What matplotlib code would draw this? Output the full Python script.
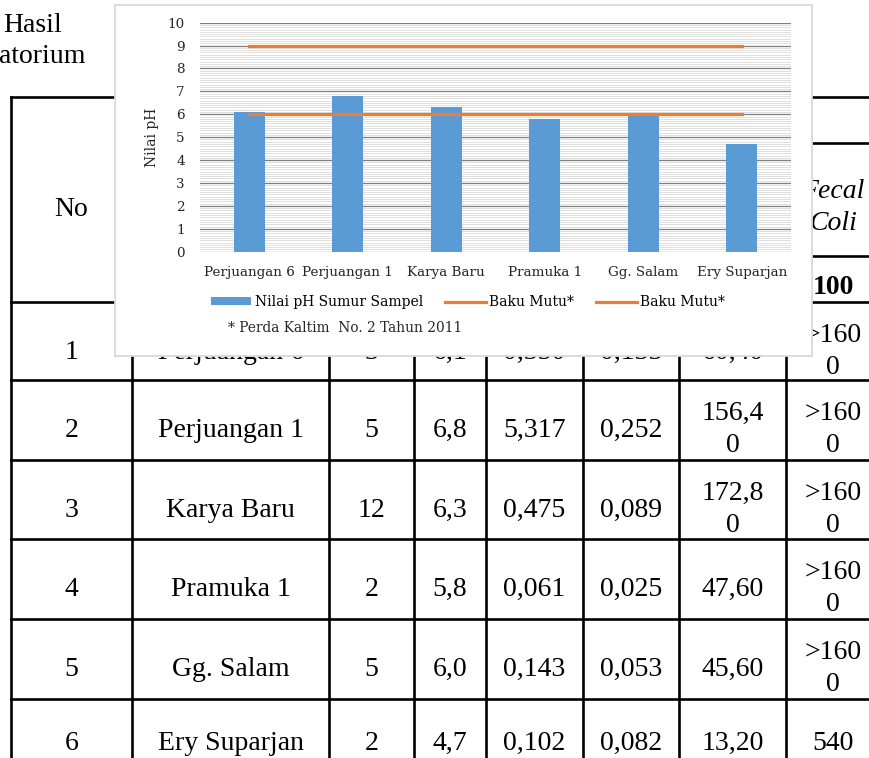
import numpy as np
import matplotlib.pyplot as plt

# data grafik pH sumur
lokasi = ['Perjuangan 6', 'Perjuangan 1', 'Karya Baru', 'Pramuka 1', 'Gg. Salam', 'Ery Suparjan']
nilai_ph = [6.1, 6.8, 6.3, 5.8, 6.0, 4.7]
baku_atas = [9, 9, 9, 9, 9, 9]
baku_bawah = [6, 6, 6, 6, 6, 6]

# isi tabel hasil laboratorium
nomor = ['1', '2', '3', '4', '5', '6']
kol_jumlah = ['3', '5', '12', '2', '5', '2']
kol_ph = [f'{v:.1f}'.replace('.', ',') for v in nilai_ph]
kol_a = ['0,350', '5,317', '0,475', '0,061', '0,143', '0,102']
kol_b = ['0,133', '0,252', '0,089', '0,025', '0,053', '0,082']
kol_c = ['60,40', '156,4\n0', '172,8\n0', '47,60', '45,60', '13,20']
kol_fecal = ['>160\n0', '>160\n0', '>160\n0', '>160\n0', '>160\n0', '540']

W, H = 869, 758
fig = plt.figure(figsize=(W / 100, H / 100), dpi=100)

# ---- tabel di belakang (koordinat piksel) ----
tab = fig.add_axes([0, 0, 1, 1])
tab.set_xlim(0, W)
tab.set_ylim(H, 0)
tab.axis('off')

col_x = [11, 132, 329, 414, 486, 583, 679, 786, 880]
row_y = [302, 380, 460, 539, 619, 699, 778]
lw_tab = 1.9

for x in col_x[:-1]:
    tab.plot([x, x], [97, row_y[-1]], color='black', lw=lw_tab)
tab.plot([col_x[0], col_x[-1]], [97, 97], color='black', lw=lw_tab)
for y in (143, 256):
    tab.plot([col_x[2], col_x[-1]], [y, y], color='black', lw=lw_tab)
for y in row_y:
    tab.plot([col_x[0], col_x[-1]], [y, y], color='black', lw=lw_tab)

serif = 'Liberation Serif'
fs_tab = 20


def tulis(xc, top, teks, **kw):
    baris = teks.split('\n')
    if len(baris) == 1:
        # baris terakhir terpotong di tepi bawah gambar
        tab.text(xc, min(top + 57, H - 8), teks, ha='center', va='baseline',
                 family=serif, fontsize=fs_tab, **kw)
    else:
        for i, b in enumerate(baris):
            tab.text(xc, top + 40 + 32 * i, b, ha='center', va='baseline',
                     family=serif, fontsize=fs_tab, **kw)


pusat = [(col_x[i] + col_x[i + 1]) / 2 for i in range(len(col_x) - 1)]
kolom = [nomor, lokasi, kol_jumlah, kol_ph, kol_a, kol_b, kol_c, kol_fecal]
for r in range(len(nomor)):
    for c, isi in enumerate(kolom):
        tulis(pusat[c], row_y[r], isi[r])

# kepala tabel
tab.text(pusat[0], 216, 'No', ha='center', va='baseline', family=serif, fontsize=fs_tab)
tab.text(pusat[7], 198, 'Fecal', ha='center', va='baseline', family=serif,
         fontsize=fs_tab, style='italic')
tab.text(pusat[7], 230, 'Coli', ha='center', va='baseline', family=serif,
         fontsize=fs_tab, style='italic')
tab.text(pusat[7], 294, '100', ha='center', va='baseline', family=serif,
         fontsize=fs_tab, weight='bold')
tab.text(3, 32, 'Hasil', ha='left', va='baseline', family=serif, fontsize=fs_tab)
tab.text(-1, 63, 'atorium', ha='left', va='baseline', family=serif, fontsize=fs_tab)

# ---- kotak grafik ----
box = fig.add_axes([115 / W, 1 - 356 / H, 697 / W, 351 / H])
box.set_facecolor('white')
box.set_xticks([])
box.set_yticks([])
for s in box.spines.values():
    s.set_color('#d9d9d9')
    s.set_linewidth(1.3)

# ---- grafik pH ----
ax = fig.add_axes([200 / W, 1 - 251.7 / H, 591 / W, 229 / H])
ax.patch.set_alpha(0)
x = np.arange(len(lokasi))
bars = ax.bar(x, nilai_ph, width=0.31, color='#5b9bd5', zorder=2,
              label='Nilai pH Sumur Sampel')
l1, = ax.plot(x, baku_atas, color='#ed7d31', lw=2.3, zorder=3, label='Baku Mutu*')
l2, = ax.plot(x, baku_bawah, color='#ed7d31', lw=2.3, zorder=3, label='Baku Mutu*')

ax.set_xlim(-0.5, 5.5)
ax.set_ylim(0, 10)
ax.set_yticks(np.arange(0, 11, 1))
ax.set_yticks(np.arange(0, 10.01, 0.1), minor=True)
ax.grid(which='major', axis='y', color='#7f7f7f', lw=0.9)
ax.grid(which='minor', axis='y', color='#d9d9d9', lw=0.6)
ax.set_axisbelow(True)
for s in ax.spines.values():
    s.set_visible(False)

cfont = 'DejaVu Serif'
ax.set_xticks(x)
ax.set_xticklabels(lokasi)
ax.tick_params(which='both', length=0)
ax.tick_params(axis='x', pad=10)
ax.tick_params(axis='y', pad=11)
for t in ax.get_xticklabels() + ax.get_yticklabels():
    t.set_family(cfont)
    t.set_fontsize(9.7)
    t.set_color('#262626')
ax.set_ylabel('Nilai pH', family=cfont, fontsize=10, color='#262626')
ax.yaxis.set_label_coords(-0.069, 0.5)

fig.legend(handles=[bars, l1, l2], loc='center',
           bbox_to_anchor=(468 / W, 1 - 302 / H), ncol=3, frameon=False,
           prop={'family': cfont, 'size': 10}, handlelength=2.9,
           handletextpad=0.25, columnspacing=1.6, handleheight=0.5)
fig.text(228 / W, 1 - 328 / H, '* Perda Kaltim  No. 2 Tahun 2011', ha='left',
         va='center', family=cfont, fontsize=9.9, color='#262626')

fig.savefig('out.png', dpi=100)
